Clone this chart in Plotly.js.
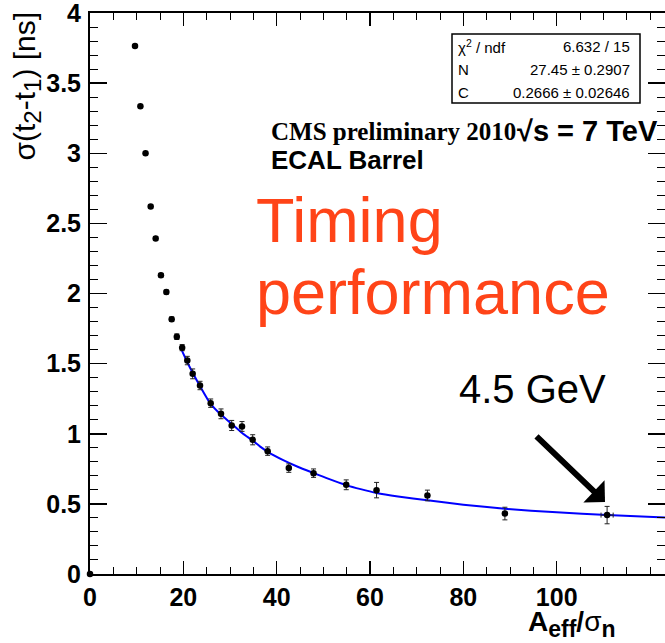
<!DOCTYPE html>
<html>
<head>
<meta charset="utf-8">
<script src="https://cdn.plot.ly/plotly-3.0.1.min.js"></script>
<style>
  html, body { margin: 0; padding: 0; background: #ffffff; overflow: hidden; }
  #chart { width: 665px; height: 643px; }
</style>
</head>
<body>
<div id="chart"></div>
<script>
// ---- data ----
const ampOverNoise = [0, 9.64, 10.8, 11.9, 13.0, 14.07, 15.2, 16.36, 17.5, 18.6, 19.75, 20.85, 22.0, 23.57, 25.86, 28.07, 30.36, 32.57, 34.86, 38.07, 42.6, 47.9, 54.9, 61.4, 72.3, 88.9, 110.8];
const sigmaDt = [0, 3.765, 3.335, 3.0, 2.62, 2.393, 2.13, 2.01, 1.817, 1.692, 1.614, 1.522, 1.427, 1.344, 1.218, 1.142, 1.059, 1.052, 0.957, 0.876, 0.755, 0.719, 0.636, 0.598, 0.56, 0.431, 0.42];
const sigmaErr = [0, 0.01, 0.01, 0.01, 0.012, 0.012, 0.013, 0.014, 0.016, 0.02, 0.022, 0.03, 0.035, 0.03, 0.03, 0.035, 0.036, 0.035, 0.036, 0.03, 0.03, 0.03, 0.035, 0.055, 0.038, 0.045, 0.062];
const ampErr = [0, 0, 0, 0, 0, 0, 0, 0, 0, 0, 0, 0, 0, 0, 0, 0, 0, 0, 0, 0, 0, 0, 0, 0, 0, 0, 1.3];

// fitted curve
const fitX = [19.7, 20.85, 22.0, 23.6, 25.8, 28.1, 30.4, 32.6, 34.9, 36.4, 38.0, 41.4, 44.5, 47.9, 51.0, 54.9, 58.0, 61.4, 66.0, 72.3, 80.0, 88.9, 100.0, 110.8, 123.2];
const fitY = [1.593, 1.51, 1.435, 1.338, 1.215, 1.135, 1.069, 1.005, 0.95, 0.91, 0.873, 0.812, 0.765, 0.72, 0.68, 0.634, 0.605, 0.578, 0.553, 0.526, 0.494, 0.465, 0.44, 0.421, 0.402];

// axes ticks
const xTickVals = [0, 20, 40, 60, 80, 100];
const xTickText = ['0', '20', '40', '60', '80', '100'];
const yTickVals = [0, 0.5, 1, 1.5, 2, 2.5, 3, 3.5, 4];
const yTickText = ['0', '0.5', '1', '1.5', '2', '2.5', '3', '3.5', '4'];

// stats box
const statLabels = ['χ<sup>2</sup> / ndf', 'N', 'C'];
const statValues = ['6.632 / 15', '27.45 ± 0.2907', '0.2666 ± 0.02646'];

// ---- layout geometry (pixels) ----
const W = 665, H = 643;
const M = { l: 90, r: 0, t: 13, b: 69 };
const PW = W - M.l - M.r, PH = H - M.t - M.b;
const px = x => (x - M.l) / PW;          // pixel x -> paper
const py = y => (H - M.b - y) / PH;      // pixel y -> paper

const SANS = 'Liberation Sans, Arial, Helvetica, sans-serif';
const SERIF = 'Liberation Serif, Times New Roman, serif';

const traces = [
  {
    type: 'scatter', mode: 'lines',
    x: fitX, y: fitY,
    line: { color: '#0000ff', width: 2, shape: 'spline', smoothing: 0.6 },
    hoverinfo: 'skip'
  },
  {
    type: 'scatter', mode: 'markers',
    x: ampOverNoise, y: sigmaDt,
    cliponaxis: false,
    marker: { color: '#000000', size: 6.5, symbol: 'circle' },
    error_y: { type: 'data', array: sigmaErr, visible: true, color: '#222222', thickness: 1, width: 2.5 },
    error_x: { type: 'data', array: ampErr, visible: true, color: '#222222', thickness: 1, width: 2.5 }
  }
];

const ann = [];
// stats box texts
const rowY = [47, 70, 93];
for (let i = 0; i < statLabels.length; i++) {
  ann.push({ xref: 'paper', yref: 'paper', x: px(456), y: py(rowY[i]), xanchor: 'left', yanchor: 'middle',
    text: statLabels[i], showarrow: false, font: { family: SANS, size: 15, color: '#000' } });
  ann.push({ xref: 'paper', yref: 'paper', x: px(632), y: py(rowY[i]), xanchor: 'right', yanchor: 'middle',
    text: statValues[i], showarrow: false, font: { family: SANS, size: 15, color: '#000' } });
}
// CMS labels
ann.push({ xref: 'paper', yref: 'paper', x: px(269), y: py(131), xanchor: 'left', yanchor: 'middle',
  text: 'CMS preliminary 2010', showarrow: false, font: { family: SERIF, size: 25, color: '#000', weight: 'bold' } });
ann.push({ xref: 'paper', yref: 'paper', x: px(515), y: py(131), xanchor: 'left', yanchor: 'middle',
  text: '√s = 7 TeV', showarrow: false, font: { family: SANS, size: 29, color: '#000', weight: 'bold' } });
ann.push({ xref: 'paper', yref: 'paper', x: px(269), y: py(160), xanchor: 'left', yanchor: 'middle',
  text: 'ECAL Barrel', showarrow: false, font: { family: SANS, size: 26, color: '#000', weight: 'bold' } });
// Timing performance
ann.push({ xref: 'paper', yref: 'paper', x: px(254), y: py(220), xanchor: 'left', yanchor: 'middle',
  text: 'Timing', showarrow: false, font: { family: SANS, size: 63, color: '#ff4418' } });
ann.push({ xref: 'paper', yref: 'paper', x: px(254), y: py(292), xanchor: 'left', yanchor: 'middle',
  text: 'performance', showarrow: false, font: { family: SANS, size: 63, color: '#ff4418' } });
// 4.5 GeV
ann.push({ xref: 'paper', yref: 'paper', x: px(457), y: py(389), xanchor: 'left', yanchor: 'middle',
  text: '4.5 GeV', showarrow: false, font: { family: SANS, size: 40, color: '#000' } });
// arrow
ann.push({ xref: 'paper', yref: 'paper', x: px(605), y: py(502), text: '', showarrow: true,
  ax: -70, ay: -67, axref: 'pixel', ayref: 'pixel',
  arrowhead: 1, arrowsize: 0.85, arrowwidth: 6, arrowcolor: '#000', standoff: 0 });
// axis titles
ann.push({ xref: 'paper', yref: 'paper', x: px(27), y: py(10), xanchor: 'center', yanchor: 'top', textangle: -90,
  text: 'σ(t<sub><span style="font-size:24px">2</span></sub>-t<sub><span style="font-size:24px">1</span></sub>) [ns]',
  showarrow: false, font: { family: SANS, size: 30, color: '#000' } });
ann.push({ xref: 'paper', yref: 'paper', x: px(527), y: py(624), xanchor: 'left', yanchor: 'middle', borderpad: 0,
  text: 'A<sub><span style="font-size:23px">eff</span></sub>/<span style="font-weight:normal">σ</span><sub><span style="font-size:23px">n</span></sub>',
  showarrow: false, font: { family: SANS, size: 28, color: '#000', weight: 'bold' } });

const layout = {
  width: W, height: H,
  margin: M,
  paper_bgcolor: '#ffffff', plot_bgcolor: '#ffffff',
  showlegend: false,
  xaxis: {
    range: [0, PW / 4.667],
    tickmode: 'array', tickvals: xTickVals, ticktext: xTickText,
    ticks: 'inside', ticklen: 13, tickwidth: 1.5, tickcolor: '#000',
    minor: { tickmode: 'linear', tick0: 0, dtick: 5, ticks: 'inside', ticklen: 7, tickwidth: 1, tickcolor: '#000' },
    showline: true, linecolor: '#000', linewidth: 2, mirror: 'ticks',
    showgrid: false, zeroline: false,
    tickfont: { family: SANS, size: 25, color: '#000', weight: 'bold' },
    ticklabelstandoff: 0, ticklabeloverflow: 'allow'
  },
  yaxis: {
    range: [0, 4],
    tickmode: 'array', tickvals: yTickVals, ticktext: yTickText,
    ticks: 'inside', ticklen: 17, tickwidth: 1.5, tickcolor: '#000',
    minor: { tickmode: 'linear', tick0: 0, dtick: 0.1, ticks: 'inside', ticklen: 8, tickwidth: 1, tickcolor: '#000' },
    showline: true, linecolor: '#000', linewidth: 2, mirror: 'ticks',
    showgrid: false, zeroline: false,
    tickfont: { family: SANS, size: 25, color: '#000', weight: 'bold' },
    ticklabelstandoff: 2, ticklabeloverflow: 'allow'
  },
  shapes: [
    { type: 'rect', xref: 'paper', yref: 'paper', x0: px(452), x1: px(640), y0: py(103), y1: py(34),
      line: { color: '#000', width: 1.5 }, fillcolor: '#ffffff', layer: 'above' }
  ],
  annotations: ann
};

Plotly.newPlot('chart', traces, layout, { displayModeBar: false, staticPlot: true });
</script>
</body>
</html>
